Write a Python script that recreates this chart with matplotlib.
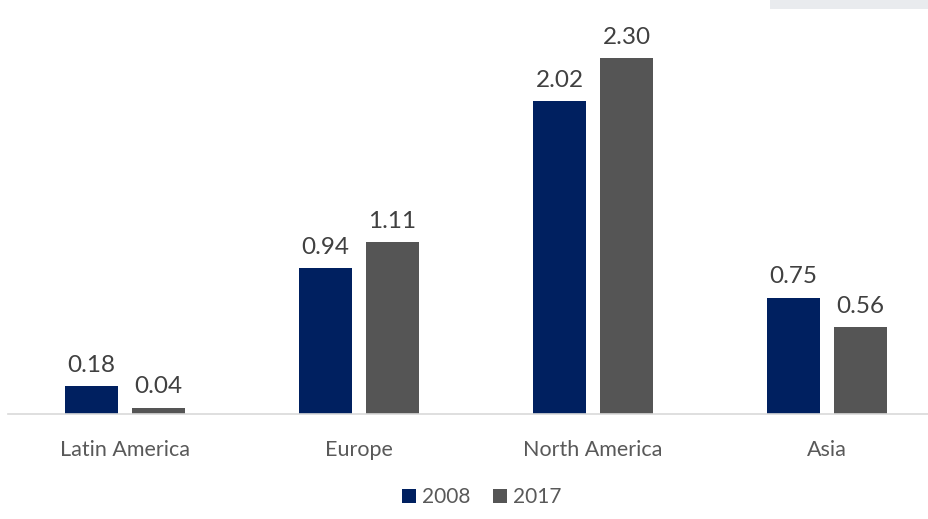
import matplotlib
matplotlib.use("Agg")
import matplotlib.pyplot as plt
import numpy as np
from matplotlib.patches import Rectangle

categories = ["Latin America", "Europe", "North America", "Asia"]
series_names = ["2008", "2017"]
values_2008 = [0.18, 0.94, 2.02, 0.75]
values_2017 = [0.04, 1.11, 2.30, 0.56]
colors = ["#002060", "#555555"]

plt.rcParams['font.family'] = ['Lato', 'DejaVu Sans']

W, H = 929, 519
fig = plt.figure(figsize=(W / 100, H / 100), dpi=100)
fig.patch.set_facecolor("white")

# faint box in top-right corner
fig.patches.append(Rectangle((770 / W, 1 - 9 / H), (W - 770) / W, 9 / H,
                             transform=fig.transFigure, facecolor="#e9ebee",
                             edgecolor="none", zorder=0))

ax = fig.add_axes([8 / W, (H - 414) / H, (W - 8) / W, 414 / H])
x = np.arange(len(categories))
bw = 53 / 234
off = (53 + 14) / 2 / 234

b1 = ax.bar(x - off, values_2008, bw, color=colors[0], label=series_names[0], zorder=2)
b2 = ax.bar(x + off, values_2017, bw, color=colors[1], label=series_names[1], zorder=2)

for bars, vals in ((b1, values_2008), (b2, values_2017)):
    for r, v in zip(bars, vals):
        ax.annotate(f"{v:.2f}", (r.get_x() + r.get_width() / 2, v),
                    xytext=(0, 7.5), textcoords="offset points",
                    ha="center", va="bottom", fontsize=17.5, color="#404040")

ax.set_xlim(-0.5, (W - 125) / 234)
ax.set_ylim(0, 414 / 154.8)
ax.set_xticks(x)
ax.set_xticklabels(categories, fontsize=15.5, color="#595959")
ax.tick_params(axis="x", length=0, pad=19)
ax.set_yticks([])
for s in ("top", "right", "left"):
    ax.spines[s].set_visible(False)
ax.spines["bottom"].set_color("#d9d9d9")
ax.spines["bottom"].set_linewidth(1.2)

leg = fig.legend(handles=[b1, b2], labels=series_names, loc="center",
                 bbox_to_anchor=(482 / W, 1 - 497 / H), ncol=2, frameon=False,
                 fontsize=15, handlelength=0.65, handleheight=0.65,
                 handletextpad=0.3, columnspacing=1.1)
for t in leg.get_texts():
    t.set_color("#595959")

fig.savefig("out.png", dpi=100, facecolor="white")
